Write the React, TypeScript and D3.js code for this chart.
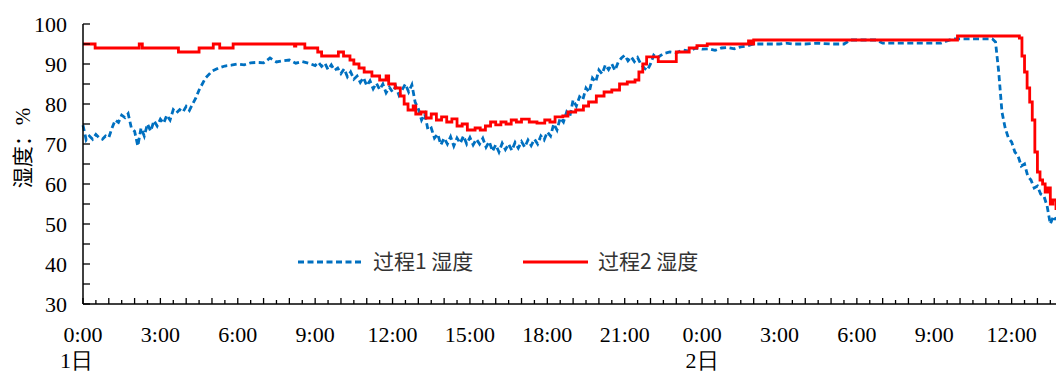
import React from "react";
import * as d3 from "d3";

// ---- data ----
const xTickLabels = ["0:00", "3:00", "6:00", "9:00", "12:00", "15:00", "18:00", "21:00", "0:00", "3:00", "6:00", "9:00", "12:00"];
const xTickHours = [0, 3, 6, 9, 12, 15, 18, 21, 24, 27, 30, 33, 36];
const dayLabels = ["1日", "2日"];
const dayHours = [0, 24];
const yTicks = [30, 40, 50, 60, 70, 80, 90, 100];

const seriesNames = ["过程1 湿度", "过程2 湿度"];

// process 1 humidity readings: [hours since day 1 0:00, %]
const process1Readings: [number, number][] = [
  [0, 74.7], [0.125, 71.0], [0.25, 72.0], [0.375, 71.2], [0.5, 72.4], [0.625, 71.6], [0.75, 71.2], [0.875, 72.0],
  [1.0, 71.6], [1.125, 74.0], [1.25, 76.0], [1.375, 75.4], [1.5, 77.2], [1.625, 76.6], [1.75, 77.6], [1.875, 74.0],
  [2.0, 73.2], [2.125, 69.5], [2.25, 74.0], [2.375, 72.0], [2.5, 75.0], [2.625, 73.2], [2.75, 75.8], [2.875, 74.5],
  [3.0, 76.2], [3.125, 75.2], [3.25, 77.2], [3.375, 76.0], [3.5, 78.6], [3.625, 77.8], [3.75, 78.6], [3.875, 78.0],
  [4.0, 79.4], [4.125, 78.4], [4.25, 80.0], [4.375, 81.5], [4.5, 83.5], [4.75, 86.5], [5.0, 88.2], [5.25, 89.0],
  [5.5, 89.5], [5.75, 89.7], [6.0, 90.0], [6.25, 89.8], [6.5, 90.3], [6.75, 90.4], [7.0, 90.3], [7.25, 91.5],
  [7.5, 90.5], [7.75, 90.8], [8.0, 91.0], [8.25, 90.2], [8.5, 90.6], [8.75, 90.2],
  [9.0, 89.6], [9.125, 90.4], [9.25, 89.4], [9.375, 90.2], [9.5, 88.6], [9.625, 89.8], [9.75, 88.4], [9.875, 89.0],
  [10.0, 87.6], [10.125, 88.8], [10.25, 86.8], [10.375, 88.0], [10.5, 86.2], [10.625, 87.0], [10.75, 85.4], [10.875, 86.6],
  [11.0, 84.6], [11.125, 85.8], [11.25, 83.8], [11.375, 85.2], [11.5, 83.6], [11.625, 85.0], [11.75, 82.8], [11.875, 84.2],
  [12.0, 83.0], [12.125, 84.4], [12.25, 82.2], [12.375, 83.6], [12.5, 85.0], [12.625, 83.0], [12.75, 84.8], [12.875, 80.5],
  [13.0, 78.8], [13.125, 76.0], [13.25, 77.5], [13.375, 73.5], [13.5, 74.0], [13.625, 71.5], [13.75, 72.5], [13.875, 69.8],
  [14.0, 71.5], [14.125, 70.0], [14.25, 71.8], [14.375, 69.5], [14.5, 71.5], [14.625, 70.2], [14.75, 72.0], [14.875, 70.0],
  [15.0, 71.6], [15.125, 69.8], [15.25, 71.2], [15.375, 70.0], [15.5, 71.4], [15.625, 69.2], [15.75, 70.6], [15.875, 68.2],
  [16.0, 69.8], [16.125, 68.0], [16.25, 70.2], [16.375, 68.6], [16.5, 70.0], [16.625, 68.4], [16.75, 70.4], [16.875, 69.0],
  [17.0, 70.6], [17.125, 69.2], [17.25, 71.0], [17.375, 69.6], [17.5, 71.2], [17.625, 70.0], [17.75, 72.0], [17.875, 71.0],
  [18.0, 73.0], [18.125, 72.0], [18.25, 75.0], [18.375, 73.5], [18.5, 76.5], [18.625, 75.5], [18.75, 78.0], [18.875, 77.0],
  [19.0, 81.0], [19.125, 79.5], [19.25, 81.8], [19.375, 81.0], [19.5, 84.0], [19.625, 83.0], [19.75, 86.5], [19.875, 85.5],
  [20.0, 88.5], [20.125, 87.5], [20.25, 89.8], [20.375, 88.6], [20.5, 90.0], [20.625, 88.4], [20.75, 90.5], [20.875, 91.5],
  [21.0, 92.2], [21.125, 90.8], [21.25, 91.8], [21.375, 90.6], [21.5, 91.6], [21.625, 90.0], [21.75, 89.0], [21.875, 88.4],
  [22.0, 90.0], [22.125, 92.2], [22.25, 91.5], [22.5, 92.6], [22.75, 93.0], [23.0, 92.8], [23.25, 93.5], [23.5, 93.2],
  [23.75, 94.0], [24.0, 93.7], [24.25, 93.8], [24.5, 93.4], [24.75, 94.0], [25.0, 94.1], [25.25, 93.8], [25.5, 94.3],
  [25.75, 94.5], [26.0, 95.0], [26.5, 95.0], [27.0, 95.0], [27.25, 95.2], [27.5, 95.0], [28.0, 95.0], [28.5, 95.2],
  [29.0, 95.0], [29.5, 95.0], [29.75, 96.0], [30.75, 96.0], [31.0, 95.2], [33.25, 95.2], [33.5, 95.8], [33.75, 96.3],
  [35.25, 96.3], [35.375, 95.5], [35.5, 88.0], [35.625, 78.0], [35.75, 74.0], [35.875, 71.5], [36.0, 70.5], [36.125, 68.0],
  [36.25, 67.0], [36.375, 64.5], [36.5, 65.0], [36.625, 62.0], [36.75, 61.0], [36.875, 59.0], [37.0, 59.5], [37.125, 57.5],
  [37.25, 57.0], [37.375, 54.5], [37.5, 50.0], [37.625, 52.0], [37.72, 51.0],
];

// process 2 humidity (step-recorded): change times (hours) and values
const process2Hours = [
  0, 0.47, 2.18, 2.3, 3.7, 4.5, 5.05, 5.3, 5.82, 8.2, 8.25, 8.6, 9.1, 9.25, 9.9, 10.1, 10.35, 10.5,
  10.7, 10.9, 11.2, 11.5, 11.75, 11.85, 12.1, 12.3, 12.45, 12.6, 12.8, 12.9, 13.1, 13.3, 13.5, 13.7,
  13.9, 14.1, 14.3, 14.5, 14.7, 14.9, 15.2, 15.4, 15.6, 15.8, 16.0, 16.2, 16.4, 16.6, 16.8, 17.0,
  17.3, 17.6, 17.9, 18.1, 18.3, 18.6, 18.8, 19.1, 19.4, 19.6, 19.9, 20.2, 20.5, 20.8, 21.1, 21.4,
  21.55, 21.7, 21.85, 22.3, 23.0, 23.5, 23.8, 24.2, 25.8, 25.9, 26.0, 33.9, 36.3, 36.4, 36.5, 36.6,
  36.7, 36.8, 36.9, 37.0, 37.1, 37.2, 37.3, 37.4, 37.5, 37.6, 37.72,
];
const process2Values = [
  95, 94, 95, 94, 93, 94, 95, 94, 95, 94.5, 95, 94, 93, 92, 93, 92, 91, 90,
  89, 88, 87, 86, 87, 85, 84, 82, 80, 78.5, 79.5, 77.5, 78, 76.5, 77.5, 76,
  76.8, 75.5, 76.3, 74.5, 75, 73.5, 74, 73.5, 74.5, 75.5, 74.8, 75.5, 75, 76, 75.5, 76.2,
  75.5, 75.2, 76, 75.5, 76.8, 77, 78, 78.5, 79.5, 80.5, 82, 83, 83.5, 85, 85.5, 86,
  88, 90, 91.8, 90.6, 93, 94, 94.6, 95, 95.8, 95, 96, 97, 96.5, 92, 88, 84,
  80.5, 76, 68, 63, 61, 60, 58, 59, 55, 56, 53.5,
];

// ---- layout ----
const W = 1056;
const H = 372;
const left = 83;
const right = 1056;
const top = 24;
const bottom = 304;

export default function App() {
  const x = d3.scaleLinear().domain([0, 37.72]).range([left, right]);
  const y = d3.scaleLinear().domain([30, 100]).range([bottom, top]);

  const p2: [number, number][] = process2Hours.map((h, i) => [h, process2Values[i]]);

  const line1 = d3
    .line<[number, number]>()
    .x((d) => x(d[0]))
    .y((d) => y(d[1]))
    .curve(d3.curveLinear);
  const line2 = d3
    .line<[number, number]>()
    .x((d) => x(d[0]))
    .y((d) => y(d[1]))
    .curve(d3.curveStepAfter);

  const halfHours = d3.range(0, 37.72, 0.5);
  const yMinor = d3.range(30, 100.1, 5);

  const serif = "'Liberation Serif', 'Times New Roman', serif";
  const cjk = "'Noto Sans CJK SC', sans-serif";

  return (
    <svg
      width={W}
      height={H}
      style={{ position: "absolute", left: 0, top: 0, background: "#fff" }}
    >
      {/* series */}
      <path d={line1(process1Readings) || ""} fill="none" stroke="#0070C0" strokeWidth={2.8} strokeDasharray="6,3.5" />
      <path d={line2(p2) || ""} fill="none" stroke="#FF0000" strokeWidth={2.8} />

      {/* axes */}
      <line x1={left} x2={left} y1={top} y2={bottom} stroke="#000" strokeWidth={1.5} />
      <line x1={left} x2={right} y1={bottom} y2={bottom} stroke="#000" strokeWidth={1.5} />
      {yMinor.map((v) => (
        <line key={"yt" + v} x1={left} x2={left + 7} y1={y(v)} y2={y(v)} stroke="#000" strokeWidth={1.3} />
      ))}
      {halfHours.map((h) => (
        <line
          key={"xt" + h}
          x1={x(h)}
          x2={x(h)}
          y1={bottom}
          y2={bottom - (h % 1 === 0 ? 6 : 4)}
          stroke="#000"
          strokeWidth={1.3}
        />
      ))}
      {yTicks.map((v) => (
        <text
          key={"yl" + v}
          x={67}
          y={y(v)}
          dy="0.35em"
          textAnchor="end"
          fontFamily={serif}
          fontSize={22}
          fill="#000"
        >
          {v}
        </text>
      ))}
      {xTickHours.map((h, i) => (
        <text
          key={"xl" + i}
          x={x(h)}
          y={342}
          textAnchor="middle"
          fontFamily={serif}
          fontSize={22}
          fill="#000"
        >
          {xTickLabels[i]}
        </text>
      ))}
      {dayHours.map((h, i) => (
        <text
          key={"dl" + i}
          x={i === 0 ? 60 : x(h)}
          y={368}
          textAnchor={i === 0 ? "start" : "middle"}
          fontFamily={serif}
          fontSize={22}
          fill="#000"
        >
          {dayLabels[i]}
        </text>
      ))}

      {/* y title */}
      <text
        transform="translate(30,148) rotate(-90)"
        textAnchor="middle"
        fontFamily={serif}
        fontSize={21}
        fill="#000"
      >
        <tspan fontFamily={cjk}>湿度：</tspan>
        <tspan>%</tspan>
      </text>

      {/* legend */}
      <line x1={298} x2={364} y1={262} y2={262} stroke="#0070C0" strokeWidth={2.8} strokeDasharray="6,3.5" />
      <text x={373} y={262} dy="0.35em" fontFamily={cjk} fontSize={21} fill="#333">
        {seriesNames[0]}
      </text>
      <line x1={523} x2={588} y1={262} y2={262} stroke="#FF0000" strokeWidth={2.8} />
      <text x={598} y={262} dy="0.35em" fontFamily={cjk} fontSize={21} fill="#333">
        {seriesNames[1]}
      </text>
    </svg>
  );
}
